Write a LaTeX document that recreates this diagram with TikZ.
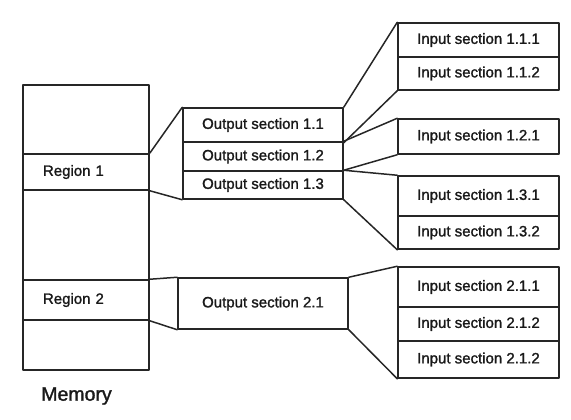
\documentclass[tikz,border=0pt]{standalone}
\usepackage{fontspec}
\setmainfont{Liberation Sans}
\newfontfamily\boxfont[BoldFont={Liberation Sans}, BoldFeatures={FakeBold=1.5}]{Liberation Sans}
\begin{document}
\begin{tikzpicture}[x=1pt,y=-1pt,
  box/.style={draw=black!85, line width=1.5pt, line join=round, rectangle, inner sep=0pt,
    font=\boxfont\fontsize{15}{17}\selectfont\bfseries, text=black!90},
  regbox/.style={box, inner xsep=20pt, text width=86pt, align=left, minimum height=#1},
  membox/.style={box, minimum width=126pt, minimum height=#1},
  outbox/.style={box, minimum width=160pt, minimum height=#1},
  inbox/.style={box, minimum width=161pt, minimum height=#1},
  conn/.style={draw=black!85, line width=1.5pt, line cap=round}]
\useasboundingbox (0,0) rectangle (571,420);
% memory
\node[membox=69pt] (memtop) at (86,119.5) {};
\node[regbox=36pt] (reg1) at (86,172) {Region 1};
\node[membox=90pt] (memmid) at (86,235) {};
\node[regbox=40pt] (reg2) at (86,300) {Region 2};
\node[membox=50pt] (membot) at (86,345) {};
\node[font=\boxfont\fontsize{19.5}{22}\selectfont\bfseries, text=black!90, inner sep=0pt] (memlabel) at (76.5,396) {Memory};
% output sections
\node[outbox=34pt] (o11) at (263,125) {Output section 1.1};
\node[outbox=29pt] (o12) at (263,156.5) {Output section 1.2};
\node[outbox=28pt] (o13) at (263,185) {Output section 1.3};
\node[box, minimum width=170pt, minimum height=51pt] (o21) at (263,303.5) {Output section 2.1};
% input sections
\node[inbox=34pt] (i111) at (478.5,40) {Input section 1.1.1};
\node[inbox=33pt] (i112) at (478.5,73.5) {Input section 1.1.2};
\node[inbox=35pt] (i121) at (478.5,136.5) {Input section 1.2.1};
\node[inbox=40pt] (i131) at (478.5,196) {Input section 1.3.1};
\node[inbox=33pt] (i132) at (478.5,232.5) {Input section 1.3.2};
\node[inbox=40pt] (i211) at (478.5,287) {Input section 2.1.1};
\node[inbox=34pt] (i212) at (478.5,324) {Input section 2.1.2};
\node[inbox=37pt] (i213) at (478.5,359.5) {Input section 2.1.2};
% connectors
\draw[conn] (reg1.north east) -- (o11.north west);
\draw[conn] (reg1.south east) -- (o13.south west);
\draw[conn] (reg2.north east) -- (o21.north west);
\draw[conn] (reg2.south east) -- (o21.south west);
\draw[conn] (o11.north east) -- (i111.north west);
\draw[conn] (o11.south east) -- (i112.south west);
\draw[conn] (o12.north east) -- (i121.north west);
\draw[conn] (o13.north east) -- (i121.south west);
\draw[conn] (o13.north east) -- (i131.north west);
\draw[conn] (o13.south east) -- (i132.south west);
\draw[conn] (o21.north east) -- (i211.north west);
\draw[conn] (o21.south east) -- (i213.south west);
\end{tikzpicture}
\end{document}
